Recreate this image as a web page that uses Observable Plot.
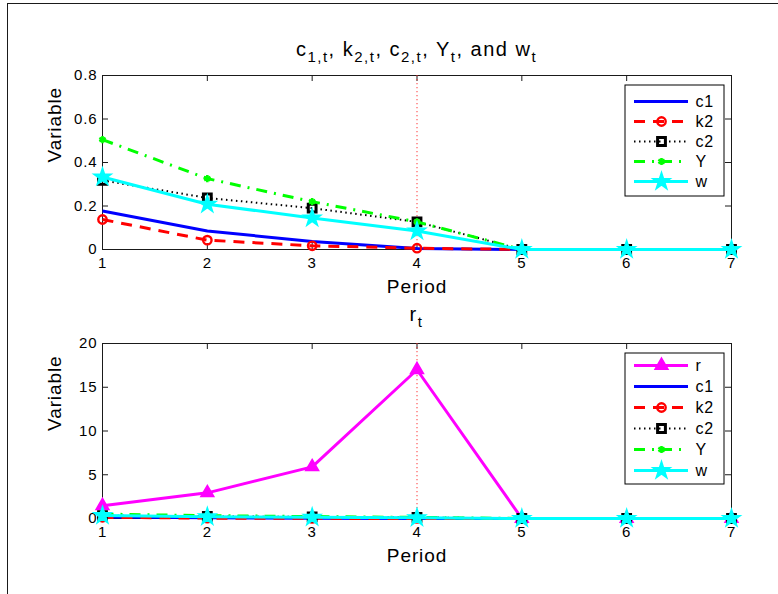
<!DOCTYPE html>
<html><head><meta charset="utf-8">
<script src="https://cdn.jsdelivr.net/npm/d3@7"></script>
<script src="https://cdn.jsdelivr.net/npm/@observablehq/plot@0.6"></script>
<style>
body{margin:0;background:#fff;font-family:"Liberation Sans",Arial,Helvetica,sans-serif;}
#fig{position:relative;width:778px;height:594px;overflow:hidden;background:#fff;}
#border{position:absolute;left:7px;top:3px;width:900px;height:800px;border-left:1px solid #1a1a1a;border-top:1px solid #1a1a1a;}
#fig svg{position:absolute;left:0;overflow:visible;}
</style></head><body><div id="fig"><div id="border"></div></div>
<script>
// ---- data ----
const periods = [1, 2, 3, 4, 5, 6, 7];
const c1 = [0.177, 0.085, 0.037, 0.005, 0, 0, 0];
const k2 = [0.138, 0.043, 0.017, 0.006, 0, 0, 0];
const c2 = [0.318, 0.237, 0.19, 0.127, 0, 0, 0];
const Y  = [0.505, 0.326, 0.22, 0.127, 0, 0, 0];
const w  = [0.333, 0.208, 0.145, 0.085, 0, 0, 0];
const r  = [1.45, 2.93, 5.9, 17.0, 0, 0, 0];
const xTicks = [1, 2, 3, 4, 5, 6, 7];
const yTicksTop = [0, 0.2, 0.4, 0.6, 0.8];
const yTickLabelsTop = ["0", "0.2", "0.4", "0.6", "0.8"];
const yTicksBottom = [0, 5, 10, 15, 20];
const yTickLabelsBottom = ["0", "5", "10", "15", "20"];
const markedPeriod = [4];
const seriesTop = ["c1", "k2", "c2", "Y", "w"];
const seriesBottom = ["r", "c1", "k2", "c2", "Y", "w"];
const values = {c1, k2, c2, Y, w, r};

// ---- styles ----
const FONT = '"Liberation Sans", Arial, Helvetica, sans-serif';
const AX = "#1a1a1a";
const styles = {
  r:  {stroke: "#ff00ff", width: 3, dash: null, symbol: "triangle", r: 4.8, fill: "#ff00ff", mstroke: "#ff00ff", mwidth: 1.5},
  c1: {stroke: "#0000ff", width: 3, dash: null, symbol: null},
  k2: {stroke: "#ff0000", width: 3, dash: "11,8", symbol: "circle", r: 4.2, fill: "none", mstroke: "#ff0000", mwidth: 2.4},
  c2: {stroke: "#000000", width: 2, dash: "1.5,3.5", symbol: "square", r: 4.4, fill: "none", mstroke: "#000000", mwidth: 3},
  Y:  {stroke: "#00ff00", width: 3, dash: "11,7,2,7", symbol: "asterisk", r: 3.4, fill: "none", mstroke: "#00ff00", mwidth: 2.6},
  w:  {stroke: "#00ffff", width: 3, dash: null, symbol: "star", r: 5.4, fill: "#00ffff", mstroke: "#00ffff", mwidth: 1.5}
};

function seriesMarks(names) {
  const marks = [];
  for (const n of names) {
    const s = styles[n];
    const data = periods.map((p, i) => ({period: p, value: values[n][i]}));
    marks.push(Plot.line(data, {x: "period", y: "value", stroke: s.stroke, strokeWidth: s.width,
      strokeDasharray: s.dash || undefined, strokeLinejoin: "round", strokeLinecap: "butt"}));
    if (s.symbol) marks.push(Plot.dot(data, {x: "period", y: "value", symbol: s.symbol, r: s.r,
      fill: s.fill, stroke: s.mstroke, strokeWidth: s.mwidth}));
  }
  return marks;
}

function panel({yTicks, yLabels, yDomain, names, top, height, mt, mb}) {
  const W = 778, ml = 102, mr = 47;
  const innerW = W - ml - mr, innerH = height - mt - mb, tl = 6;
  const chart = Plot.plot({
    width: W, height, marginLeft: ml, marginRight: mr, marginTop: mt, marginBottom: mb,
    style: {fontFamily: FONT, color: "#000", background: "transparent", overflow: "visible"},
    x: {domain: [1, 7]},
    y: {domain: yDomain},
    marks: [
      Plot.frame({stroke: AX, strokeWidth: 1}),
      Plot.ruleX(xTicks, {x: d => d, insetTop: innerH - tl, stroke: AX}),
      Plot.ruleX(xTicks, {x: d => d, insetBottom: innerH - tl, stroke: AX}),
      Plot.ruleY(yTicks, {y: d => d, insetRight: innerW - tl, stroke: AX}),
      Plot.ruleY(yTicks, {y: d => d, insetLeft: innerW - tl, stroke: AX}),
      Plot.axisX(xTicks, {tickSize: 0, tickPadding: 8, fontSize: 15, label: null, tickFormat: d => String(d)}),
      Plot.axisY(yTicks, {tickSize: 0, tickPadding: 5, fontSize: 15, label: null,
        tickFormat: d => yLabels[yTicks.indexOf(d)]}),
      Plot.text(["Period"], {frameAnchor: "bottom", text: d => d, lineAnchor: "bottom", dy: 43, fontSize: 19}),
      Plot.text(["Variable"], {frameAnchor: "left", text: d => d, rotate: -90, lineAnchor: "bottom", dx: -42, fontSize: 19}),
      Plot.ruleX(markedPeriod, {x: d => d, stroke: "#ff3030", strokeOpacity: 0.8, strokeDasharray: "1.2,2.8", strokeWidth: 1.2}),
      ...seriesMarks(names)
    ]
  });
  chart.style.top = top + "px";
  d3.select(chart).selectAll("text").attr("letter-spacing", "0.9px");
  return chart;
}

function legend({names, left, top, height, yRange}) {
  const marks = [Plot.frame({fill: "#fff", stroke: "#000", inset: 0.5})];
  for (const n of names) {
    const s = styles[n];
    marks.push(Plot.ruleY([n], {y: d => d, x1: 0, x2: 1, stroke: s.stroke, strokeWidth: s.width,
      strokeDasharray: s.dash || undefined}));
    if (s.symbol) marks.push(Plot.dot([n], {x: () => 0.5, y: d => d, symbol: s.symbol, r: s.r,
      fill: s.fill, stroke: s.mstroke, strokeWidth: s.mwidth}));
    marks.push(Plot.text([n], {x: () => 1, y: d => d, text: d => d, dx: 7, textAnchor: "start", fontSize: 16}));
  }
  const chart = Plot.plot({
    width: 100, height, margin: 0,
    style: {fontFamily: FONT, color: "#000", background: "transparent", overflow: "visible"},
    x: {domain: [0, 1], range: [10, 64], axis: null},
    y: {type: "point", domain: names, range: yRange, padding: 0, axis: null},
    marks
  });
  chart.style.top = top + "px";
  chart.style.left = left + "px";
  d3.select(chart).selectAll("text").attr("letter-spacing", "0.8px");
  return chart;
}

function addTitle(chart, parts, baselineY) {
  const cx = chart.scale("x").apply(4);
  const t = d3.select(chart).append("text")
    .attr("x", cx).attr("y", baselineY).attr("text-anchor", "middle")
    .attr("font-family", FONT).attr("font-size", 20).attr("letter-spacing", "1.5px").attr("fill", "#000");
  let lowered = false;
  for (const [txt, sub] of parts) {
    t.append("tspan").attr("font-size", 20).attr("dy", lowered ? -6 : 0).text(txt);
    lowered = false;
    if (sub) {
      t.append("tspan").attr("font-size", 15).attr("dy", 6).text(sub);
      lowered = true;
    }
  }
}

const fig = document.getElementById("fig");
const topChart = panel({yTicks: yTicksTop, yLabels: yTickLabelsTop, yDomain: [0, 0.8], names: seriesTop,
  top: 0, height: 297, mt: 75, mb: 48});
addTitle(topChart, [["c", "1,t"], [", k", "2,t"], [", c", "2,t"], [", Y", "t"], [", and w", "t"]], 56);
const bottomChart = panel({yTicks: yTicksBottom, yLabels: yTickLabelsBottom, yDomain: [0, 20], names: seriesBottom,
  top: 297, height: 297, mt: 46, mb: 76});
addTitle(bottomChart, [["r", "t"]], 24);
fig.appendChild(topChart);
fig.appendChild(bottomChart);
fig.appendChild(legend({names: seriesTop, left: 624, top: 84, height: 112, yRange: [15.5, 98]}));
fig.appendChild(legend({names: seriesBottom, left: 624, top: 352, height: 132, yRange: [12.5, 119]}));
</script></body></html>
